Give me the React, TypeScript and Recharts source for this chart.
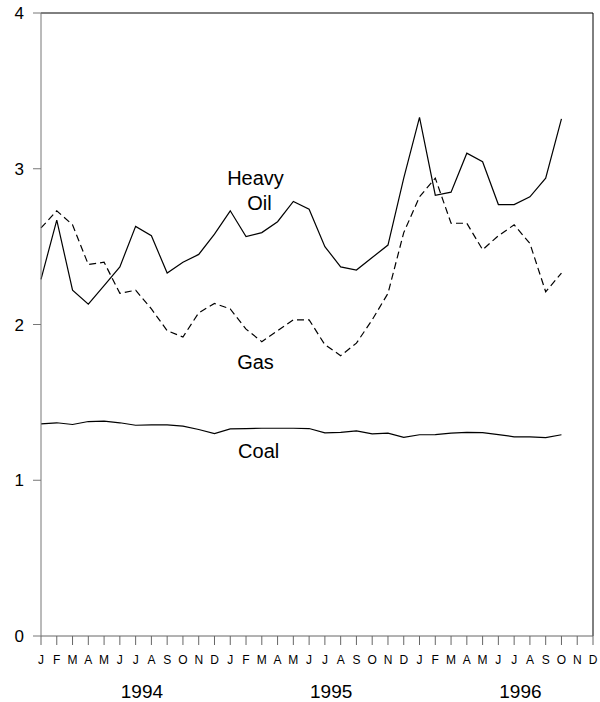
import { LineChart, Line, XAxis, YAxis, ReferenceLine, ReferenceDot } from "recharts";

const months = ["J", "F", "M", "A", "M", "J", "J", "A", "S", "O", "N", "D"];
const years = ["1994", "1995", "1996"];

// monthly prices, Jan 1994 .. Oct 1996
const heavyOil = [
  2.29, 2.67, 2.22, 2.13, 2.25, 2.37, 2.63, 2.57, 2.33, 2.4, 2.45, 2.58,
  2.73, 2.565, 2.59, 2.66, 2.79, 2.74, 2.5, 2.37, 2.35, 2.43, 2.51, 2.94,
  3.33, 2.83, 2.85, 3.1, 3.045, 2.77, 2.77, 2.82, 2.94, 3.32,
];
const gas = [
  2.62, 2.73, 2.64, 2.385, 2.4, 2.2, 2.22, 2.1, 1.96, 1.92, 2.075, 2.135,
  2.1, 1.97, 1.89, 1.96, 2.03, 2.03, 1.87, 1.8, 1.88, 2.03, 2.2, 2.59,
  2.82, 2.94, 2.65, 2.65, 2.48, 2.57, 2.64, 2.52, 2.21, 2.33,
];
const coal = [
  1.362, 1.369, 1.358, 1.377, 1.379, 1.369, 1.353, 1.355, 1.355, 1.347, 1.326, 1.3,
  1.33, 1.332, 1.334, 1.334, 1.334, 1.332, 1.304, 1.308, 1.317, 1.298, 1.302, 1.276,
  1.292, 1.293, 1.302, 1.308, 1.306, 1.293, 1.279, 1.279, 1.274, 1.292,
];

const monthLabels = years.flatMap(() => months);
const monthTicks = monthLabels.map((_, i) => i);
const yearTicks = years.map((_, k) => k * 12 + 6.4);

const data = heavyOil.map((v, i) => ({ i, heavyOil: v, gas: gas[i], coal: coal[i] }));

const labels = [
  { x: 13.6, y: 2.94, text: "Heavy" },
  { x: 13.85, y: 2.78, text: "Oil" },
  { x: 13.6, y: 1.76, text: "Gas" },
  { x: 13.8, y: 1.19, text: "Coal" },
];

export default function App() {
  return (
    <div style={{ position: "absolute", left: 0, top: 0, fontFamily: "'Liberation Sans', Arial, sans-serif" }}>
      <LineChart width={600} height={702} data={data} margin={{ top: 13, right: 7, bottom: 0, left: 0 }}>
        <XAxis
          dataKey="i"
          type="number"
          domain={[0, 35]}
          ticks={monthTicks}
          interval={0}
          tickFormatter={(v) => monthLabels[v]}
          height={30}
          tickSize={9}
          tickMargin={10}
          stroke="#666"
          tick={{ fontSize: 12, fill: "#000" }}
        />
        <XAxis
          xAxisId="year"
          dataKey="i"
          type="number"
          domain={[0, 35]}
          ticks={yearTicks}
          interval={0}
          tickFormatter={(v) => years[Math.round((v - 6.4) / 12)]}
          height={36}
          tickSize={0}
          tickMargin={19}
          axisLine={false}
          tickLine={false}
          tick={{ fontSize: 19, fill: "#000" }}
        />
        <YAxis
          type="number"
          domain={[0, 4]}
          ticks={[0, 1, 2, 3, 4]}
          width={41}
          tickSize={8}
          tickMargin={9}
          stroke="#777"
          tick={{ fontSize: 17, fill: "#000" }}
        />
        <ReferenceLine y={4} stroke="#000" strokeWidth={1} />
        <ReferenceLine x={35} stroke="#000" strokeWidth={1} />
        <Line dataKey="heavyOil" stroke="#000" strokeWidth={1.2} dot={false} isAnimationActive={false} />
        <Line dataKey="gas" stroke="#000" strokeWidth={1.2} strokeDasharray="7 4" dot={false} isAnimationActive={false} />
        <Line dataKey="coal" stroke="#000" strokeWidth={1.2} dot={false} isAnimationActive={false} />
        {labels.map((l) => (
          <ReferenceDot
            key={l.text}
            x={l.x}
            y={l.y}
            r={0}
            fill="none"
            stroke="none"
            label={{ value: l.text, position: "center", fontSize: 20, fill: "#000" }}
          />
        ))}
      </LineChart>
    </div>
  );
}
